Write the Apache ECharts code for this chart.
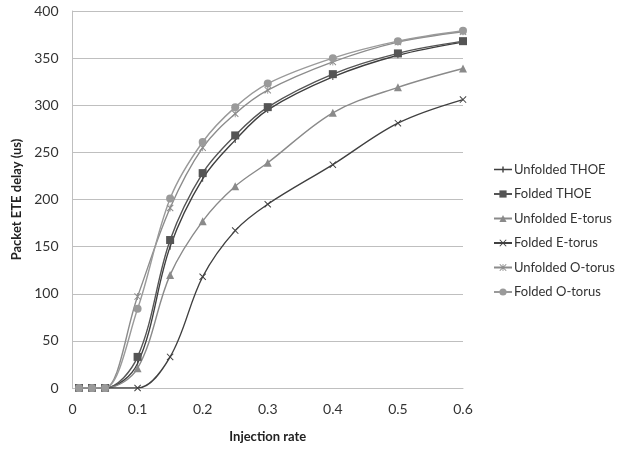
<!DOCTYPE html>
<html>
<head>
<meta charset="utf-8">
<script src="https://cdn.jsdelivr.net/npm/echarts@6/dist/echarts.min.js"></script>
<style>
  html, body { margin: 0; padding: 0; background: #fff; }
  #chart { width: 617px; height: 451px; }
</style>
</head>
<body>
<div id="chart"></div>
<script>
// injection rates (x) and delays (y, us)
const rates = [0.01, 0.03, 0.05, 0.1, 0.15, 0.2, 0.25, 0.3, 0.4, 0.5, 0.6];
const unfoldedThoe = [0, 0, 0, 26, 150, 222, 263, 295, 330, 353, 367];
const foldedThoe = [0, 0, 0, 33, 157, 228, 268, 298, 333, 355, 368];
const unfoldedEtorus = [0, 0, 0, 21, 120, 177, 214, 239, 292, 319, 339];
const foldedEtorus = [0, 0, 0, 0, 33, 118, 167, 195, 237, 281, 306];
const unfoldedOtorus = [0, 0, 0, 97, 191, 255, 291, 316, 346, 367, 378];
const foldedOtorus = [0, 0, 0, 84, 201, 261, 298, 323, 350, 368, 379];
const seriesNames = ['Unfolded THOE', 'Folded THOE', 'Unfolded E-torus', 'Folded E-torus', 'Unfolded O-torus', 'Folded O-torus'];

const dashPath = 'path://M4.2,0H5.8V10H4.2Z';
const dashLegend = 'path://M0,4.3H18V5.7H0Z M8.3,2H9.7V8H8.3Z';
const xPath = 'path://M0,1L1,0L10,9L9,10Z M9,0L10,1L1,10L0,9Z';
const starPath = 'path://M0,1L1,0L10,9L9,10Z M9,0L10,1L1,10L0,9Z M4.4,0H5.6V10H4.4Z';

const pairs = (ys) => rates.map((r, i) => [r, ys[i]]);

const makeSeries = (name, ys, color, symbol, size) => ({
  name,
  type: 'line',
  smooth: 0.35,
  data: pairs(ys),
  symbol,
  symbolSize: size,
  symbolKeepAspect: true,
  showAllSymbol: true,
  lineStyle: { color, width: 1.4 },
  itemStyle: { color },
  emphasis: { disabled: true },
});

const chart = echarts.init(document.getElementById('chart'));

chart.setOption({
  animation: false,
  textStyle: { fontFamily: 'Lato', color: '#404040' },
  grid: { left: 72.5, right: 154, top: 11, bottom: 63 },
  legend: {
    orient: 'vertical',
    left: 488,
    top: 158,
    itemGap: 11.5,
    itemWidth: 18,
    itemHeight: 9,
    data: seriesNames.map((n, i) => (i === 0 ? { name: n, icon: dashLegend } : n)),
    textStyle: { fontSize: 13, color: '#333', fontFamily: 'Lato', padding: [0, 0, 0, -3] },
  },
  xAxis: {
    type: 'value',
    min: 0,
    max: 0.6,
    interval: 0.1,
    name: 'Injection rate',
    nameLocation: 'middle',
    nameGap: 42,
    nameTextStyle: { fontWeight: 'bold', fontSize: 13, color: '#222' },
    axisLine: { show: true, lineStyle: { color: '#bfbfbf' } },
    axisTick: { show: false },
    axisLabel: { fontSize: 14, color: '#333', margin: 14 },
    splitLine: { show: false },
  },
  yAxis: {
    type: 'value',
    min: 0,
    max: 400,
    interval: 50,
    name: 'Packet ETE delay (us)',
    nameLocation: 'middle',
    nameGap: 47,
    nameTextStyle: { fontWeight: 'bold', fontSize: 13, color: '#222' },
    axisLine: { show: true, lineStyle: { color: '#bfbfbf' } },
    axisTick: { show: false },
    axisLabel: { fontSize: 14, color: '#333', margin: 14 },
    splitLine: { lineStyle: { color: '#bfbfbf' } },
  },
  series: [
    makeSeries(seriesNames[0], unfoldedThoe, '#3f3f3f', dashPath, 6),
    makeSeries(seriesNames[1], foldedThoe, '#555555', 'rect', 8),
    makeSeries(seriesNames[2], unfoldedEtorus, '#8a8a8a', 'triangle', 8),
    makeSeries(seriesNames[3], foldedEtorus, '#404040', xPath, 7),
    makeSeries(seriesNames[4], unfoldedOtorus, '#8c8c8c', starPath, 7),
    makeSeries(seriesNames[5], foldedOtorus, '#9a9a9a', 'circle', 8),
  ],
});
</script>
</body>
</html>
